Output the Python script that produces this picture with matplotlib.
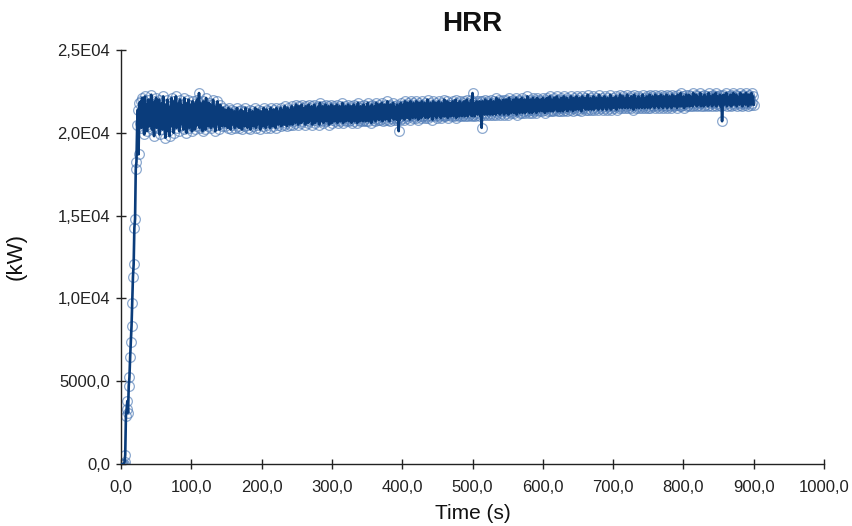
import numpy as np
import matplotlib
matplotlib.use("Agg")
import matplotlib.pyplot as plt
from matplotlib.ticker import FixedLocator, FuncFormatter

plt.rcParams['font.family'] = ['Liberation Sans', 'DejaVu Sans']

# Ignition and growth phase, t = 0 ... 26 s
ramp_time = [0, 1, 2, 3, 4, 5, 6, 7, 8, 9, 10, 11, 12, 13, 14, 15, 16, 17,
             18, 19, 20, 21, 22, 23, 24, 25, 26]
ramp_hrr = [0, 0, 0, 0, 0, 120, 550, 2900, 3300, 3800, 3100, 4700, 5250, 6450,
            7350, 8350, 9750, 11300, 12050, 14250, 14800, 17800, 18250, 20500,
            21400, 18700, 21800]

# Quasi-steady burning phase, 1 s samples from t = 27 s to 900 s
steady_start = 27
steady_hrr = [
    20600, 21900, 20300, 22100, 20800, 21500, 19900, 22200, 20500, 21700, 20100, 21300, 22000, 20400, 21800, 20700, 22300, 20200, 21600, 21000,
    19800, 21900, 20600, 22100, 20300, 21400, 20900, 22000, 19900, 21500, 20700, 21800, 20200, 22200, 20500, 21300, 19700, 21700, 20800, 22000,
    20100, 21600, 19800, 21200, 20400, 22100, 20700, 21900, 20000, 21500, 20600, 22200, 20300, 21400, 21000, 21800, 20100, 22000, 20500, 21700,
    20800, 21300, 20200, 22100, 20600, 21800, 20000, 21500, 20900, 22000, 20300, 21700, 20500, 21400, 20100, 21900, 20700, 21600, 20200, 21800,
    20400, 22000, 20600, 21500, 22400, 20300, 21800, 20900, 21400, 20100, 21900, 20500, 21600, 20200, 22100, 20700, 21300, 20400, 21800, 20600,
    21700, 20300, 21500, 20800, 22000, 20400, 21600, 20100, 21300, 20700, 21900, 20500, 21400, 20200, 21700, 20600, 21200, 20400, 21500, 20700,
    21300, 20400, 21400, 20600, 21100, 20300, 21500, 20700, 21200, 20200, 21400, 20500, 21000, 20600, 21300, 20300, 21200, 20700, 21500, 20400,
    21100, 20300, 21300, 20600, 21400, 20200, 21000, 20700, 21300, 20400, 21500, 20500, 21100, 20300, 21200, 20800, 21400, 20200, 21000, 20600,
    21300, 20400, 21200, 20700, 21500, 20300, 21100, 20500, 21400, 20600, 21000, 20200, 21300, 20700, 21200, 20400, 21500, 20600, 21100, 20300,
    21400, 20500, 21200, 20800, 21300, 20300, 21500, 20600, 21100, 20400, 21400, 20700, 21200, 20300, 21500, 20600, 21000, 20500, 21300, 20700,
    21500, 20400, 21200, 20800, 21400, 20500, 21600, 20600, 21300, 20400, 21500, 20700, 21200, 20500, 21400, 20800, 21600, 20500, 21300, 20700,
    21500, 20600, 21700, 20800, 21400, 20500, 21600, 20900, 21300, 20600, 21700, 20700, 21500, 20900, 21400, 20500, 21600, 20800, 21300, 20600,
    21700, 20700, 21500, 20900, 21600, 20500, 21400, 20800, 21700, 20600, 21500, 20900, 21300, 20700, 21600, 20500, 21800, 20800, 21400, 20700,
    21600, 20600, 21500, 20900, 21700, 20700, 21400, 20800, 21600, 20500, 21500, 20900, 21700, 20600, 21300, 20800, 21600, 20700, 21500, 20900,
    21700, 20600, 21400, 20800, 21600, 20700, 21500, 20900, 21800, 20600, 21400, 20800, 21600, 20700, 21500, 20900, 21700, 20700, 21400, 20800,
    21600, 20600, 21500, 21000, 21700, 20700, 21400, 20900, 21600, 20600, 21800, 20800, 21500, 20700, 21600, 20900, 21400, 20700, 21700, 20800,
    21500, 20700, 21600, 20900, 21800, 20700, 21400, 21000, 21600, 20600, 21700, 20900, 21500, 20800, 21600, 20700, 21800, 20900, 21500, 20800,
    21700, 20800, 21500, 21000, 21800, 20700, 21600, 20900, 21700, 20800, 21500, 21000, 21900, 20800, 21600, 20700, 21700, 20900, 21500, 21000,
    21800, 20800, 21600, 20900, 21500, 20800, 21700, 20900, 20100, 21600, 20800, 21800, 21000, 21600, 20900, 21700, 20800, 21900, 21000, 21600,
    20900, 21800, 21000, 21700, 20800, 21900, 21100, 21600, 20900, 21800, 21000, 21700, 20900, 21900, 21100, 21600, 20800, 21800, 21000, 21700,
    20900, 21900, 21000, 21600, 21100, 21800, 20900, 21700, 21000, 22000, 20900, 21600, 21100, 21800, 21000, 21700, 20800, 21900, 21100, 21600,
    21000, 21800, 20900, 21700, 21100, 21900, 21000, 21600, 20900, 21800, 21100, 21700, 21000, 22000, 21000, 21600, 21100, 21900, 20900, 21700,
    21100, 21800, 21000, 21700, 21200, 21900, 21000, 21600, 21100, 22000, 20900, 21800, 21100, 21700, 21000, 21900, 21200, 21600, 21000, 21800,
    21100, 21900, 21000, 21700, 21200, 22000, 21000, 21800, 21100, 21700, 21200, 22000, 21000, 22400, 21100, 21800, 21000, 21700, 21200, 21900,
    21100, 21800, 21200, 21900, 21000, 21700, 20300, 21900, 21200, 21800, 21100, 22000, 21200, 21700, 21100, 21900, 21300, 21800, 21100, 22000,
    21200, 21800, 21100, 21900, 21300, 21700, 21100, 22100, 21200, 21800, 21300, 22000, 21100, 21900, 21200, 21700, 21300, 22000, 21100, 21800,
    21300, 22000, 21200, 21800, 21100, 22100, 21300, 21900, 21200, 21800, 21400, 22000, 21200, 21900, 21300, 22100, 21100, 21800, 21300, 22000,
    21200, 21900, 21400, 22100, 21200, 21800, 21300, 22000, 21200, 21900, 21400, 22200, 21300, 21800, 21200, 22000, 21400, 21900, 21200, 22100,
    21300, 21900, 21400, 22000, 21200, 22100, 21400, 21800, 21300, 22000, 21500, 21900, 21300, 22100, 21400, 21800, 21200, 22000, 21500, 22100,
    21300, 21900, 21500, 22200, 21300, 22000, 21400, 21900, 21300, 22100, 21500, 21900, 21400, 22200, 21300, 22000, 21500, 21800, 21300, 22100,
    21500, 22000, 21300, 22200, 21400, 21900, 21500, 22100, 21300, 22000, 21600, 21900, 21400, 22200, 21500, 22000, 21300, 22100, 21500, 21900,
    21400, 22200, 21600, 22000, 21400, 22100, 21500, 21900, 21300, 22200, 21500, 22000, 21600, 22100, 21400, 21900, 21500, 22300, 21400, 22000,
    21600, 22100, 21400, 22000, 21500, 22200, 21400, 21900, 21600, 22100, 21500, 22000, 21400, 22300, 21600, 21900, 21500, 22100, 21400, 22000,
    21600, 22200, 21500, 21900, 21400, 22100, 21600, 22000, 21500, 22300, 21400, 22000, 21600, 22100, 21500, 21900, 21600, 22200, 21400, 22000,
    21600, 22100, 21500, 22300, 21600, 22000, 21500, 22200, 21700, 22000, 21500, 22100, 21600, 22300, 21500, 22000, 21700, 22100, 21500, 22200,
    21600, 22000, 21400, 22300, 21700, 22100, 21500, 22000, 21600, 22200, 21500, 22100, 21700, 22000, 21500, 22300, 21600, 22100, 21500, 22000,
    21700, 22200, 21500, 22100, 21600, 22300, 21500, 22000, 21700, 22200, 21600, 22100, 21500, 22300, 21700, 22000, 21600, 22200, 21500, 22100,
    21700, 22300, 21600, 22000, 21500, 22200, 21700, 22100, 21600, 22300, 21500, 22000, 21700, 22200, 21600, 22100, 21500, 22300, 21700, 22000,
    21600, 22200, 21700, 22100, 21500, 22300, 21700, 22000, 21600, 22400, 21600, 22100, 21700, 22200, 21500, 22100, 21800, 22300, 21600, 22000,
    21700, 22300, 21600, 22200, 21800, 22100, 21600, 22400, 21700, 22100, 21800, 22300, 21600, 22200, 21700, 22100, 21800, 22400, 21600, 22200,
    21800, 22100, 21600, 22300, 21700, 22200, 21900, 22100, 21600, 22400, 21700, 22200, 21800, 22100, 21600, 22300, 21800, 22200, 21700, 22400,
    21600, 22200, 21800, 22100, 21700, 22300, 21600, 22200, 20700, 21800, 22300, 21700, 22100, 21900, 22400, 21600, 22200, 21800, 22100, 21700,
    22300, 21600, 22200, 21800, 22400, 21700, 22100, 21900, 22300, 21600, 22200, 21800, 22100, 21700, 22400, 21800, 22200, 21600, 22300, 21800,
    22100, 21700, 22400, 21800, 22200, 21600, 22300, 21900, 22100, 21700, 22400, 21800, 22200, 21700,
]

x_ticks = [0, 100, 200, 300, 400, 500, 600, 700, 800, 900, 1000]
y_ticks = [0, 5000, 10000, 15000, 20000, 25000]
y_tick_labels = ["0,0", "5000,0", "1,0E04", "1,5E04", "2,0E04", "2,5E04"]

steady_time = steady_start + np.arange(len(steady_hrr))
time = np.concatenate([ramp_time, steady_time])
hrr = np.concatenate([ramp_hrr, steady_hrr])

fig = plt.figure(figsize=(8.53, 5.26), dpi=100)
ax = fig.add_axes([121 / 853, 1 - 464 / 526, (824 - 121) / 853, (464 - 50) / 526])

line_color = "#0a3c7b"
ax.plot(time, hrr, linestyle="none", marker="o", markersize=7.0,
        markerfacecolor="none", markeredgecolor="#4f7bb6", markeredgewidth=0.9,
        alpha=0.65, zorder=2)
ax.plot(time, hrr, color=line_color, linewidth=1.9, zorder=3)

ax.set_xlim(0, 1000)
ax.set_ylim(0, 25000)
ax.xaxis.set_major_locator(FixedLocator(x_ticks))
ax.xaxis.set_major_formatter(FuncFormatter(lambda v, p: f"{v:.1f}".replace(".", ",")))
ax.set_yticks(y_ticks)
ax.set_yticklabels(y_tick_labels)

for side in ("top", "right"):
    ax.spines[side].set_visible(False)
for side in ("left", "bottom"):
    ax.spines[side].set_color("#222222")
    ax.spines[side].set_linewidth(1.0)

ax.tick_params(axis="both", direction="inout", length=7.5, width=1.0,
               colors="#222222", labelsize=12, labelcolor="#222222")
ax.tick_params(axis="x", pad=8)
ax.tick_params(axis="y", pad=4)

ax.set_title("HRR", fontsize=20, fontweight="bold", pad=14, color="#111111")
ax.set_xlabel("Time (s)", fontsize=15, color="#111111", labelpad=6)
ax.set_ylabel("(kW)", fontsize=16, color="#111111")
ax.yaxis.set_label_coords(-0.134, 0.5)

fig.savefig("out.png", dpi=100)
